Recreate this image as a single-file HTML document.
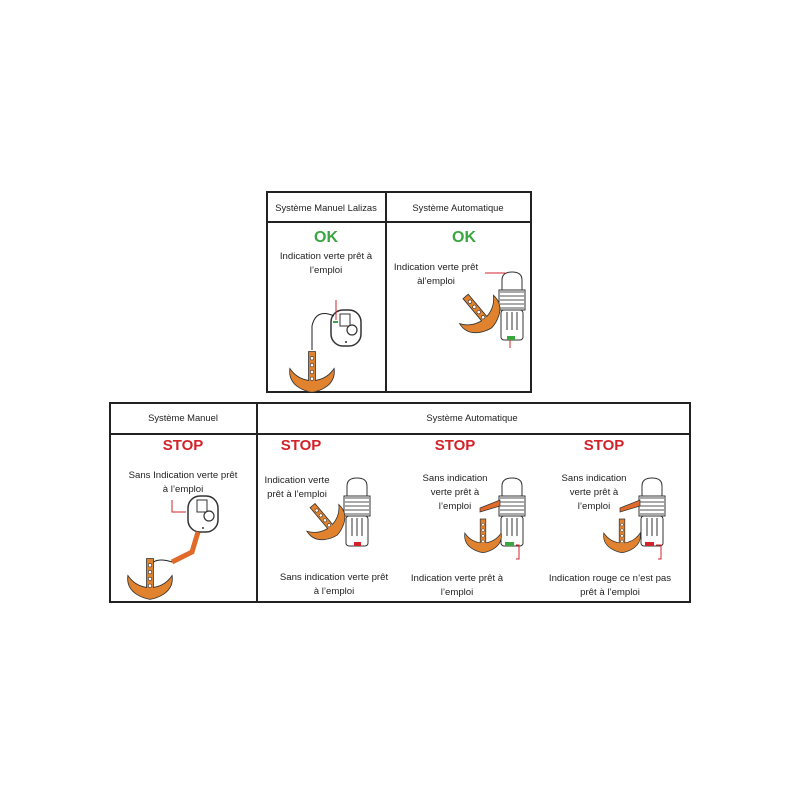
<!DOCTYPE html>
<html><head><meta charset="utf-8"><style>
html,body{margin:0;padding:0;background:#fff;width:800px;height:800px;overflow:hidden}
svg{display:block}
text{font-family:"Liberation Sans",sans-serif;fill:#222}
.s{font-size:9.6px}
.h{font-size:9.4px}
.ok{font-size:16px;font-weight:bold;fill:#3aa640}
.st{font-size:15px;font-weight:bold;fill:#d3232a}
</style></head><body>
<svg width="800" height="800" viewBox="0 0 800 800">
<defs>
<g id="anchor">
<path d="M-4,-30 h8 v34 q14,-2 22,-14 q2,14 -10,22 q-8,5 -16,6 h-0 q-8,-1 -16,-6 q-12,-8 -10,-22 q8,12 22,14 z" fill="#e0822e" stroke="#333" stroke-width="1"/>
<circle cx="0" cy="-22" r="2" fill="#fff" stroke="#333" stroke-width=".7"/>
<circle cx="0" cy="-14" r="2" fill="#fff" stroke="#333" stroke-width=".7"/>
<circle cx="0" cy="-6" r="2" fill="#fff" stroke="#333" stroke-width=".7"/>
<circle cx="0" cy="2" r="2" fill="#fff" stroke="#333" stroke-width=".7"/>
</g>
<g id="auto">
<path d="M-10,-38 q0,-8 10,-8 q10,0 10,8 v10 h-20z" fill="#fff" stroke="#333"/>
<rect x="-13" y="-28" width="26" height="20" fill="#fff" stroke="#333"/>
<path d="M-12,-26 h24 M-12,-22 h24 M-12,-18 h24 M-12,-14 h24 M-12,-10 h24" stroke="#555" stroke-width="1"/>
<rect x="-11" y="-8" width="22" height="30" rx="3" fill="#fff" stroke="#333"/>
<path d="M-5,-6 v18 M0,-6 v18 M5,-6 v18" stroke="#333" stroke-width="1"/>
</g>
<g id="man">
<rect x="-15" y="-18" width="30" height="36" rx="12" fill="#fff" stroke="#333" stroke-width="1.5"/>
<rect x="-6" y="-14" width="10" height="12" fill="#fff" stroke="#333"/>
<circle cx="6" cy="2" r="5" fill="#fff" stroke="#333" stroke-width="1.2"/>
<circle cx="0" cy="14" r="1" fill="#333"/>
</g>
</defs>

<!-- top table -->
<rect x="267" y="192" width="264" height="200" fill="none" stroke="#222" stroke-width="2"/>
<line x1="267" y1="222" x2="531" y2="222" stroke="#222" stroke-width="2"/>
<line x1="386" y1="192" x2="386" y2="392" stroke="#222" stroke-width="2"/>
<text x="326" y="211" class="h" text-anchor="middle">Système Manuel Lalizas</text>
<text x="458" y="211" class="h" text-anchor="middle">Système Automatique</text>
<text x="326" y="242" class="ok" text-anchor="middle">OK</text>
<text x="464" y="242" class="ok" text-anchor="middle">OK</text>
<text x="326" y="259" class="s" text-anchor="middle">Indication verte prêt à</text>
<text x="326" y="273" class="s" text-anchor="middle">l’emploi</text>
<text x="436" y="270" class="s" text-anchor="middle">Indication verte prêt</text>
<text x="436" y="284" class="s" text-anchor="middle">àl’emploi</text>
<use href="#man" x="346" y="328"/>
<path d="M334,316 q-18,-8 -22,10 v24" fill="none" stroke="#222"/>
<g transform="translate(312,377) scale(.85)"><use href="#anchor"/></g>
<line x1="336" y1="300" x2="336" y2="320" stroke="#d3232a"/>
<line x1="333" y1="322" x2="338" y2="322" stroke="#3aa640" stroke-width="2"/>
<use href="#auto" x="512" y="318"/>
<g transform="translate(482,316) rotate(-40) scale(.85)"><use href="#anchor"/></g>
<line x1="485" y1="273" x2="505" y2="273" stroke="#d3232a"/>
<rect x="507" y="336" width="8" height="4" fill="#3aa640"/>
<line x1="510" y1="340" x2="510" y2="348" stroke="#d3232a"/>

<!-- bottom table -->
<rect x="110" y="403" width="580" height="199" fill="none" stroke="#222" stroke-width="2"/>
<line x1="110" y1="434" x2="690" y2="434" stroke="#222" stroke-width="2"/>
<line x1="257" y1="403" x2="257" y2="602" stroke="#222" stroke-width="2"/>
<text x="183" y="421" class="h" text-anchor="middle">Système Manuel</text>
<text x="472" y="421" class="h" text-anchor="middle">Système Automatique</text>
<text x="183" y="450" class="st" text-anchor="middle">STOP</text>
<text x="301" y="450" class="st" text-anchor="middle">STOP</text>
<text x="455" y="450" class="st" text-anchor="middle">STOP</text>
<text x="604" y="450" class="st" text-anchor="middle">STOP</text>
<text x="183" y="478" class="s" text-anchor="middle">Sans Indication verte prêt</text>
<text x="183" y="492" class="s" text-anchor="middle">à l’emploi</text>
<use href="#man" x="203" y="514"/>
<path d="M198,532 l-6,20 l-20,10" fill="none" stroke="#e06a2a" stroke-width="5"/>
<path d="M172,562 q-18,-6 -24,6" fill="none" stroke="#222"/>
<g transform="translate(150,584) scale(.85)"><use href="#anchor"/></g>
<path d="M172,500 v12 h14" fill="none" stroke="#d3232a"/>
<text x="297" y="483" class="s" text-anchor="middle">Indication verte</text>
<text x="297" y="497" class="s" text-anchor="middle">prêt à l’emploi</text>
<use href="#auto" x="357" y="524"/>
<g transform="translate(328,524) rotate(-40) scale(.8)"><use href="#anchor"/></g>
<rect x="354" y="542" width="7" height="4" fill="#d3232a"/>
<text x="334" y="580" class="s" text-anchor="middle">Sans indication verte prêt</text>
<text x="334" y="594" class="s" text-anchor="middle">à l’emploi</text>
<text x="455" y="481" class="s" text-anchor="middle">Sans indication</text>
<text x="455" y="495" class="s" text-anchor="middle">verte prêt à</text>
<text x="455" y="509" class="s" text-anchor="middle">l’emploi</text>
<use href="#auto" x="512" y="524"/>
<path d="M480,508 l20,-8 l0,6 l-20,6z" fill="#e06a2a" stroke="#333" stroke-width=".7"/>
<g transform="translate(483,540) scale(.7)"><use href="#anchor"/></g>
<rect x="505" y="542" width="9" height="4" fill="#3aa640"/>
<path d="M516,545 h3 v14 h-3" fill="none" stroke="#d3232a"/>
<text x="457" y="581" class="s" text-anchor="middle">Indication verte prêt à</text>
<text x="457" y="595" class="s" text-anchor="middle">l’emploi</text>
<text x="594" y="481" class="s" text-anchor="middle">Sans indication</text>
<text x="594" y="495" class="s" text-anchor="middle">verte prêt à</text>
<text x="594" y="509" class="s" text-anchor="middle">l’emploi</text>
<use href="#auto" x="652" y="524"/>
<path d="M620,508 l20,-8 l0,6 l-20,6z" fill="#e06a2a" stroke="#333" stroke-width=".7"/>
<g transform="translate(622,540) scale(.7)"><use href="#anchor"/></g>
<rect x="645" y="542" width="9" height="4" fill="#d3232a"/>
<path d="M656,545 h5 v14 h-3" fill="none" stroke="#d3232a"/>
<text x="610" y="581" class="s" text-anchor="middle">Indication rouge ce n’est pas</text>
<text x="610" y="595" class="s" text-anchor="middle">prêt à l’emploi</text>
</svg>
</body></html>
